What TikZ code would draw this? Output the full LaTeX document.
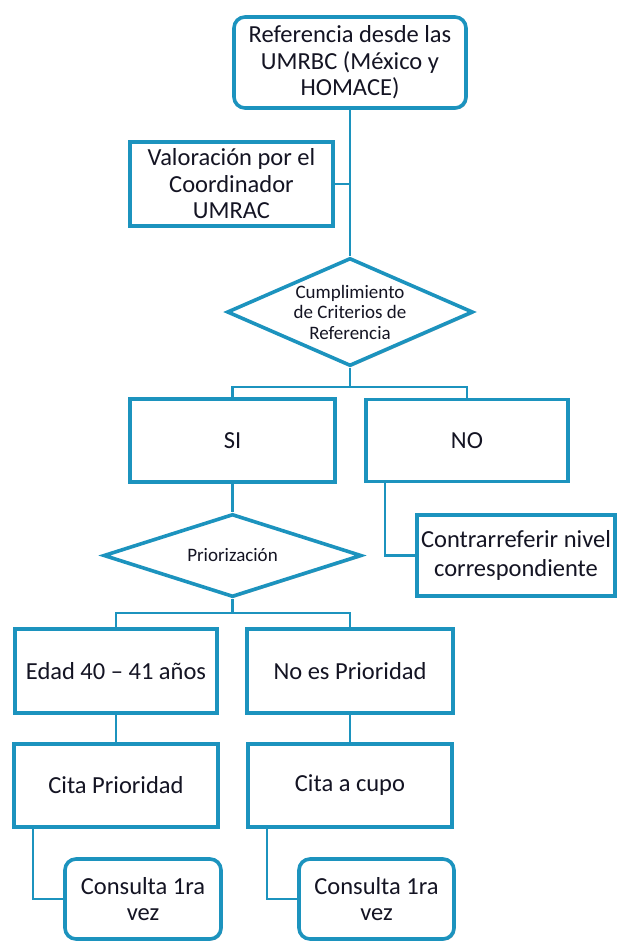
\documentclass[tikz,border=0pt]{standalone}
\usepackage{fontspec}
\setmainfont{Carlito}
\usetikzlibrary{shapes.geometric,shadows}
\definecolor{fcblue}{HTML}{1C93BE}
\definecolor{fctext}{HTML}{141423}
\begin{document}
\begin{tikzpicture}[x=1pt,y=-1pt,
  box/.style={draw=fcblue, line width=3.6pt, fill=white, align=center, inner sep=2pt,
    text=fctext, font=\fontsize{24.5}{26.5}\selectfont,
    drop shadow={shadow xshift=1.5pt, shadow yshift=-1.5pt, opacity=0.25, fill=black}},
  rbox/.style={box, rounded corners=11pt},
  dia/.style={draw=fcblue, line width=3.6pt, fill=white, diamond, inner sep=0pt,
    drop shadow={shadow xshift=1.5pt, shadow yshift=-1.5pt, opacity=0.25, fill=black}},
  diatext/.style={align=center, text=fctext, font=\fontsize{19}{20.5}\selectfont},
  link/.style={draw=fcblue, line width=2.4pt}]
\useasboundingbox (0,0) rectangle (619,943);

% nodes
\node[rbox, minimum width=232, minimum height=91] (top) at (350,62.5) {Referencia desde las\\UMRBC (México y\\HOMACE)};
\node[box, minimum width=203, minimum height=84] (val) at (231.5,184) {Valoración por el\\Coordinador\\UMRAC};
\node[dia, minimum width=246, minimum height=108,
  label={[diatext, name=d1t]center:Cumplimiento\\de Criterios de\\Referencia}] (d1) at (350,312) {};
\node[box, minimum width=205, minimum height=83] (si) at (232.5,440.5) {SI};
\node[box, minimum width=202, minimum height=82] (no) at (467,440.5) {NO};
\node[dia, minimum width=258, minimum height=83,
  label={[diatext, name=d2t]center:Priorización}] (d2) at (232.5,555.5) {};
\node[box, minimum width=198, minimum height=81, font=\fontsize{24.5}{29}\selectfont] (contra) at (516,555.5) {Contrarreferir nivel\\correspondiente};
\node[box, minimum width=202, minimum height=84] (edad) at (116,671) {Edad 40 – 41 años};
\node[box, minimum width=206, minimum height=84] (noes) at (350,671) {No es Prioridad};
\node[box, minimum width=204, minimum height=83] (cita1) at (116,785.5) {Cita Prioridad};
\node[box, minimum width=204, minimum height=83] (cita2) at (350,785.5) {Cita a cupo};
\node[rbox, minimum width=156, minimum height=80] (cons1) at (143,899) {Consulta 1ra\\vez};
\node[rbox, minimum width=155, minimum height=80] (cons2) at (376.5,899) {Consulta 1ra\\vez};

% junction coordinates
\coordinate (bar1) at (350,387);
\coordinate (bar2) at (232.5,613);

% connectors
\path[link] (top.south) -- (d1.north);
\path[link] (val.east) -- (val.east -| top.south);
\path[link] (d1.south) -- (bar1);
\path[link] (si.north) |- (bar1) -| (no.north);
\path[link] (si.south) -- (d2.north);
\path[link] ([xshift=21pt]no.south west) |- (contra.west);
\path[link] (d2.south) -- (bar2);
\path[link] (edad.north) |- (bar2) -| (noes.north);
\path[link] (edad.south) -- (cita1.north);
\path[link] (noes.south) -- (cita2.north);
\path[link] ([xshift=21pt]cita1.south west) |- (cons1.west);
\path[link] ([xshift=21pt]cita2.south west) |- (cons2.west);
\end{tikzpicture}
\end{document}
